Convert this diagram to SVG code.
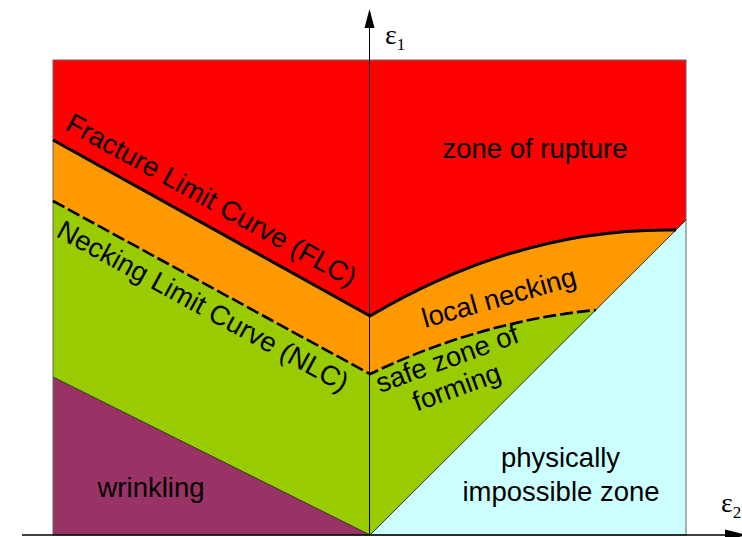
<svg xmlns="http://www.w3.org/2000/svg" width="742" height="537" viewBox="0 0 742 537">
<style>
.lbl{font-family:"Liberation Sans",Arial,sans-serif;font-size:27.5px;fill:#000}
.eps{font-family:"Liberation Serif","Times New Roman",serif;fill:#000}
.edge{fill:none;stroke:#333;stroke-width:1}
.flc{fill:none;stroke:#000;stroke-width:3;stroke-linejoin:round}
.nlc{fill:none;stroke:#000;stroke-width:2.6;stroke-dasharray:13 4}
</style>
<rect width="742" height="537" fill="#fff"/>
<g id="rupture">
<rect x="53" y="60" width="633" height="475" fill="#ff0000"/>
<text class="lbl" x="535" y="158" text-anchor="middle">zone of rupture</text>
</g>
<g id="necking">
<path d="M53,140 L370,316 Q521,227 676,230 L686,230 L686,535 L53,535 Z" fill="#ff9900"/>
<text class="lbl" transform="translate(425,328) rotate(-15.7)">local necking</text>
</g>
<g id="safe">
<path d="M53,201 L370,374 Q481,321 596,310 L686,310 L686,535 L53,535 Z" fill="#99cc00"/>
<g transform="translate(380,393) rotate(-20)">
<text class="lbl" x="0" y="0">safe zone of</text>
<text class="lbl" x="74" y="30" text-anchor="middle">forming</text>
</g>
</g>
<g id="wrinkling">
<path d="M53,377 L370,535 L53,535 Z" fill="#993366"/>
<path class="edge" d="M53,377 L370,535"/>
<text class="lbl" x="151" y="497" text-anchor="middle">wrinkling</text>
</g>
<g id="impossible">
<path d="M370,535 L686,220 L686,535 Z" fill="#ccffff"/>
<path class="edge" d="M370,535 L686,220"/>
<text class="lbl" x="560.5" y="467" text-anchor="middle">physically</text>
<text class="lbl" x="561" y="501" text-anchor="middle">impossible zone</text>
</g>
<rect x="53" y="60" width="633" height="475" fill="none" stroke="#666" stroke-width="1"/>
<g id="connectors">
<path class="flc" d="M53,140 L370,316 Q521,227 676,230"/>
<path class="nlc" d="M53,201 L370,374 Q481,321 596,310"/>
<line x1="369.5" y1="22" x2="369.5" y2="535" stroke="#000" stroke-width="1"/>
<polygon points="369.5,9 364.5,28 374.5,28" fill="#000"/>
<line x1="22" y1="535" x2="730" y2="535" stroke="#000" stroke-width="1.3"/>
<polygon points="725,529.5 747,535 725,540.5" fill="#000"/>
</g>
<g id="curve-labels">
<text class="lbl" transform="translate(64,129) rotate(29)">Fracture Limit Curve (FLC)</text>
<text class="lbl" transform="translate(55,236) rotate(28.6)">Necking Limit Curve (NLC)</text>
</g>
<g id="axis-labels">
<text class="eps" x="385" y="44" font-size="28">ε<tspan font-size="17" dy="6">1</tspan></text>
<text class="eps" x="721" y="512" font-size="28">ε<tspan font-size="17" dy="6">2</tspan></text>
</g>
</svg>
